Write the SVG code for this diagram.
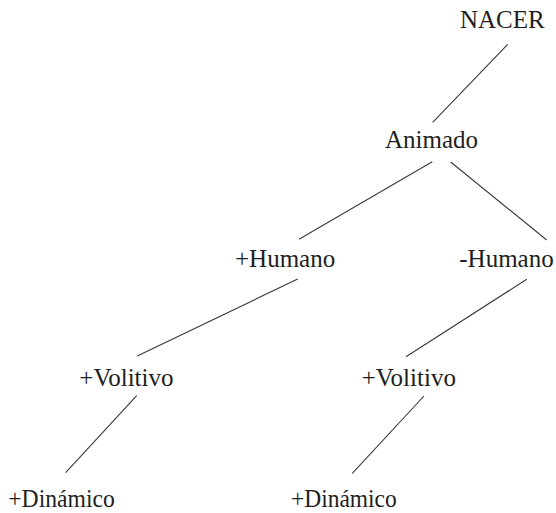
<svg xmlns="http://www.w3.org/2000/svg" width="556" height="513" viewBox="0 0 556 513">
<style>
text{font-family:"Liberation Serif","Times New Roman",serif;font-size:25px;fill:#1e1e1e}
.c line{stroke:#3a3a3a;stroke-width:1.1;fill:none}
</style>
<rect width="556" height="513" fill="#ffffff"/>
<g class="c" id="connectors">
<line x1="507.7" y1="44.3" x2="432.7" y2="122.3"/>
<line x1="432.3" y1="161.7" x2="299" y2="239.3"/>
<line x1="450.7" y1="162" x2="546.7" y2="240"/>
<line x1="297.7" y1="279" x2="137.3" y2="356"/>
<line x1="526.7" y1="279.3" x2="406" y2="356.7"/>
<line x1="136.7" y1="395.7" x2="65.7" y2="472.7"/>
<line x1="424" y1="396" x2="352.3" y2="473.3"/>
</g>
<g id="nacer"><text x="460" y="27.5">NACER</text></g>
<g id="animado"><text x="385" y="147.7">Animado</text></g>
<g id="mas-humano"><text x="235" y="267.3">+Humano</text></g>
<g id="menos-humano"><text x="459.3" y="267.3">-Humano</text></g>
<g id="volitivo-izq"><text x="79.3" y="386">+Volitivo</text></g>
<g id="volitivo-der"><text x="361.7" y="386">+Volitivo</text></g>
<g id="dinamico-izq"><text x="8.3" y="506.7" textLength="106.5" lengthAdjust="spacingAndGlyphs">+Dinámico</text></g>
<g id="dinamico-der"><text x="291" y="506.7" textLength="105.7" lengthAdjust="spacingAndGlyphs">+Dinámico</text></g>
</svg>
